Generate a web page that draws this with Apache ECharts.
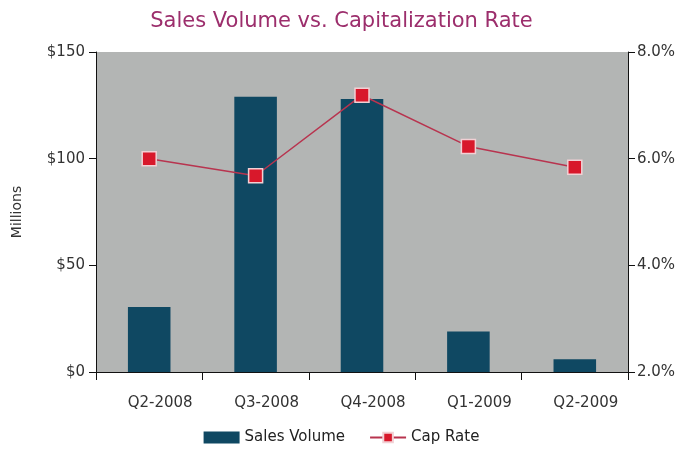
<!DOCTYPE html>
<html><head><meta charset="utf-8">
<script src="https://cdn.jsdelivr.net/npm/echarts@6/dist/echarts.min.js"></script>
<style>html,body{margin:0;padding:0;background:#fff}#c{width:683px;height:451px}</style>
</head><body><div id="c"></div>
<script>
const categories = ['Q2-2008','Q3-2008','Q4-2008','Q1-2009','Q2-2009'];
const salesVolume = [30.5, 129, 128, 19, 6];
const capRate = [6.0, 5.68, 7.19, 6.23, 5.84];
const leftTicks = [0, 50, 100, 150];
const rightTicks = [2, 4, 6, 8];

const chart = echarts.init(document.getElementById('c'));
const font = 'DejaVu Sans, Liberation Sans, sans-serif';
chart.setOption({
  animation: false,
  title: {
    text: 'Sales Volume vs. Capitalization Rate',
    left: 'center', top: 6,
    textStyle: {color: '#9c2e6c', fontSize: 21, fontWeight: 'normal', fontFamily: font}
  },
  legend: {
    bottom: 1, left: 'center', itemGap: 24,
    textStyle: {color: '#222', fontSize: 15, fontFamily: font},
    data: [
      {name: 'Sales Volume', icon: 'rect', itemStyle: {color: '#0f4862'}},
      {name: 'Cap Rate'}
    ],
    itemWidth: 36, itemHeight: 12
  },
  grid: {left: 96, right: 55, top: 52, bottom: 79, show: true, backgroundColor: '#b3b5b4', borderWidth: 0},
  xAxis: {
    type: 'category', data: categories,
    axisLine: {lineStyle: {color: '#111', width: 1}},
    axisTick: {show: true, length: 8, inside: false, lineStyle: {color: '#111'}},
    axisLabel: {color: '#333', fontSize: 15, margin: 24, fontFamily: font, padding: [0, 0, 0, 22]}
  },
  yAxis: [
    {
      type: 'value', min: 0, max: 150, interval: 50, position: 'left',
      name: 'Millions', nameLocation: 'middle', nameGap: 72, nameRotate: 90,
      nameTextStyle: {color: '#333', fontSize: 14, fontFamily: font},
      axisLine: {show: true, lineStyle: {color: '#111'}},
      axisTick: {show: true, length: 7, lineStyle: {color: '#111'}},
      splitLine: {show: false},
      axisLabel: {color: '#333', fontSize: 15, margin: 11, fontFamily: font,
        formatter: v => leftTicks.includes(v) ? '$' + v : ''}
    },
    {
      type: 'value', min: 2, max: 8, interval: 2, position: 'right',
      axisLine: {show: true, lineStyle: {color: '#111'}},
      axisTick: {show: true, length: 7, lineStyle: {color: '#111'}},
      splitLine: {show: false},
      axisLabel: {color: '#333', fontSize: 15, margin: 9, fontFamily: font,
        formatter: v => rightTicks.includes(v) ? v.toFixed(1) + '%' : ''}
    }
  ],
  series: [
    {
      name: 'Sales Volume', type: 'bar', data: salesVolume, yAxisIndex: 0,
      barWidth: '40%', itemStyle: {color: '#0f4862'}
    },
    {
      name: 'Cap Rate', type: 'line', data: capRate, yAxisIndex: 1,
      symbol: 'rect', symbolSize: 14,
      lineStyle: {color: '#b8344f', width: 1.5},
      itemStyle: {color: '#d8182b', borderColor: '#f2d0d4', borderWidth: 1.5}
    }
  ]
});
</script></body></html>
